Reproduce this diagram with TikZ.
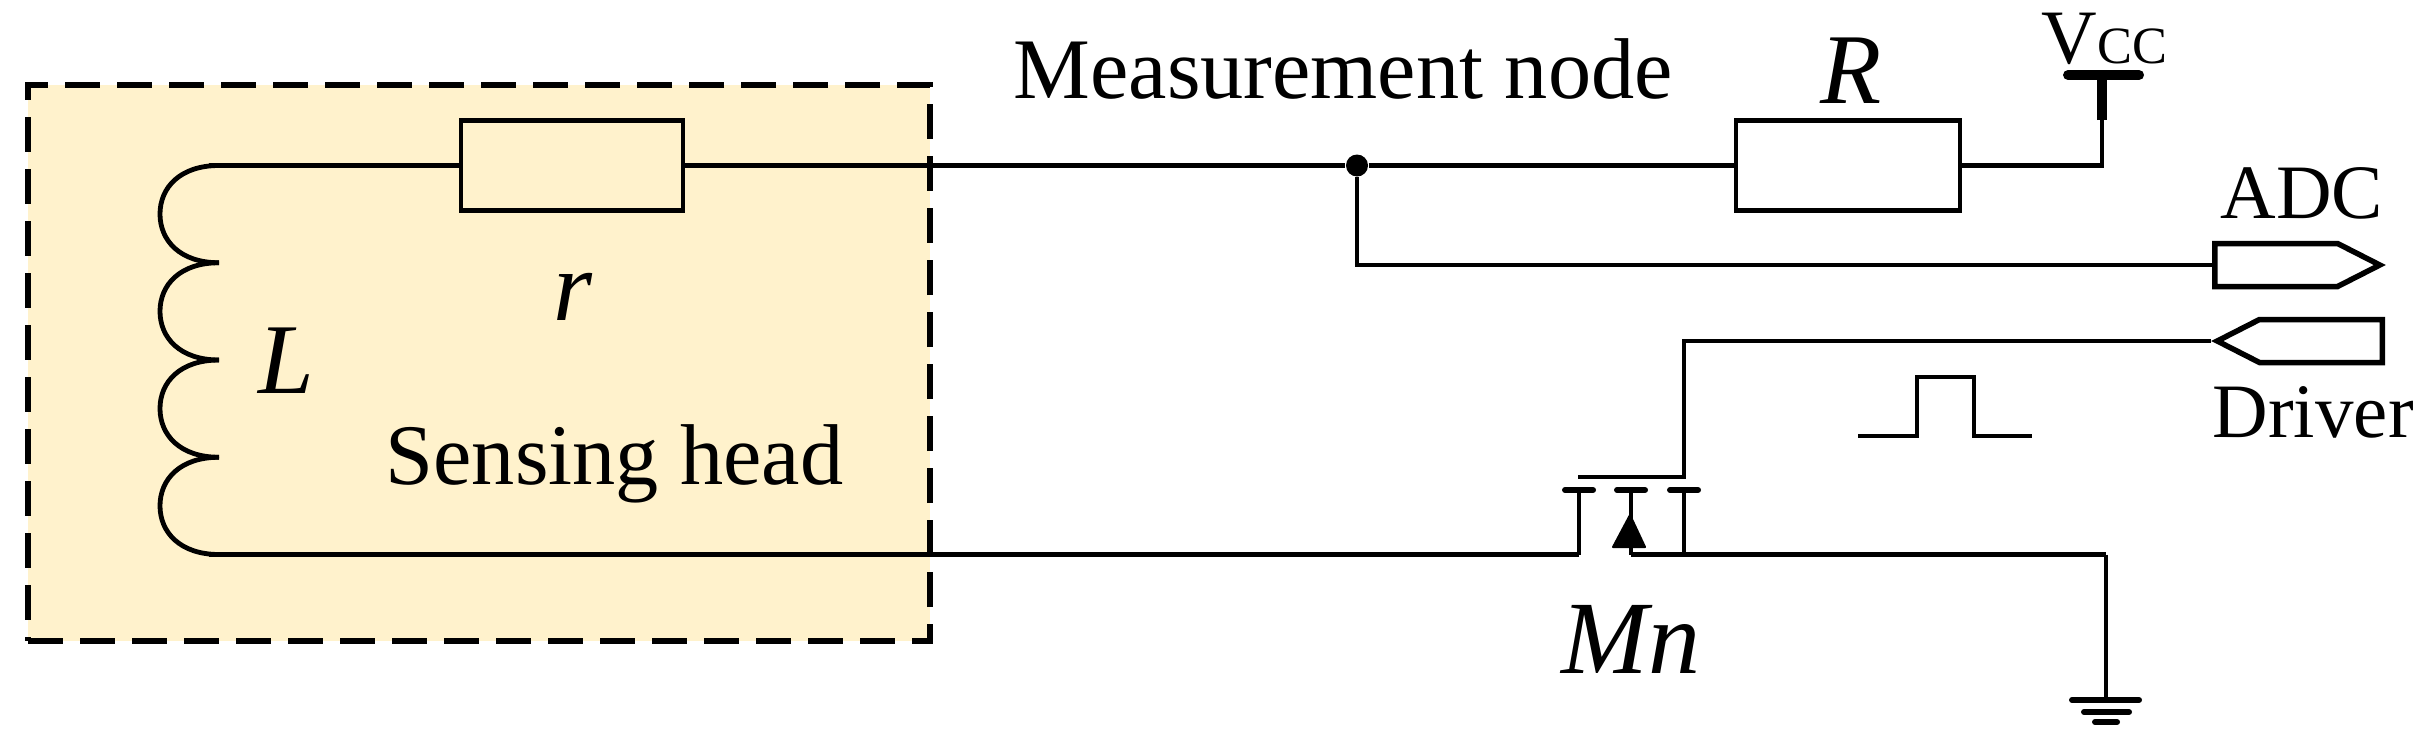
\documentclass[tikz,border=0pt]{standalone}
\usepackage{fontspec}
\setmainfont{Liberation Serif}
\usetikzlibrary{shapes.symbols}
\definecolor{headfill}{HTML}{FFF2CC}
\tikzset{
  wire/.style={line width=0.048cm},
  res/.style={draw,line width=0.048cm,inner sep=0,minimum height=0.9cm},
  port/.style={draw,signal,line width=0.055cm,inner sep=0,minimum height=0.43cm,signal pointer angle=54},
  lab/.style={inner sep=0,anchor=base west,font=\fontsize{24.55}{28}\selectfont},
  sym/.style={inner sep=0,anchor=base west,font=\fontsize{28.5}{32}\selectfont\itshape},
  tag/.style={inner sep=0,anchor=base west,font=\fontsize{21.9}{26}\selectfont},
  bar/.style={line width=0.06cm,line cap=round}
}
\begin{document}
\begin{tikzpicture}
\useasboundingbox (0,0) rectangle (24.26,7.35);
\node[draw,fill=headfill,dashed,line width=0.055cm,dash pattern=on 0.35cm off 0.17cm,inner sep=0,minimum width=9.02cm,minimum height=5.56cm] (Head) at (4.79,3.72) {};
\node[res,minimum width=2.22cm] (Rr) at (5.72,5.695) {};
\node[res,minimum width=2.24cm] (RR) at (18.48,5.695) {};
\node[circle,fill,inner sep=0,minimum size=0.22cm] (Meas) at (13.57,5.695) {};
\node[port,minimum width=1.65cm,signal to=east,anchor=west] (ADC) at (22.12,4.70) {};
\node[port,minimum width=1.65cm,signal to=west,anchor=east] (Drv) at (23.85,3.94) {};
\coordinate (CoilT) at (2.09,5.695);
\coordinate (CoilB) at (2.09,1.805);
\coordinate (Vcc) at (21.02,6.60);
\coordinate (VccS) at (21.02,6.15);
\coordinate (VccL) at (20.68,6.60);
\coordinate (VccH) at (21.39,6.60);
\coordinate (Gate) at (15.78,2.58);
\coordinate (Dr) at (15.79,1.805);
\coordinate (Bd) at (16.31,1.805);
\coordinate (Sr) at (16.84,1.805);
\coordinate (Gnd) at (21.06,0.35);
% coil
\foreach \y in {5.695,4.7225,3.75,2.7775}
  \draw[wire] (2.19,\y) .. controls (1.80,\y) and (1.60,\y-0.22) .. (1.60,\y-0.486)
    .. controls (1.60,\y-0.75) and (1.80,\y-0.9725) .. (2.19,\y-0.9725);
\path[wire]
(CoilT) edge (Rr.west)
(Rr.east) edge (Meas)
(Meas) edge (RR.west)
(CoilB) edge (Dr)
(Bd) edge (Bd -| Gnd)
(Bd -| Gnd) edge (Gnd);
\draw[wire] (RR.east) -| (VccS);
\draw[wire] (Meas) |- (ADC.west);
\draw[wire] (Drv.west) -| (16.84,2.58) -- (Gate);
% vcc terminal
\draw[line width=0.1cm] (VccS) -- (Vcc);
\draw[line width=0.1cm,line cap=round] (VccL) -- (VccH);
% transistor
\foreach \x in {15.79,16.31,16.84} {
  \draw[wire] (\x,2.45) -- (\x,1.805);
  \draw[bar] (\x-0.14,2.45) -- (\x+0.14,2.45);
}
\fill[line join=round,draw,line width=0.02cm] (16.30,2.20) -- (16.13,1.88) -- (16.45,1.88) -- cycle;
% ground
\draw[bar] (20.72,0.35) -- (21.39,0.35);
\draw[bar] (20.84,0.23) -- (21.29,0.23);
\draw[bar] (20.95,0.13) -- (21.17,0.13);
% pulse
\draw[wire] (18.58,2.99) -- (19.17,2.99) -- (19.17,3.58) -- (19.74,3.58) -- (19.74,2.99) -- (20.32,2.99);
% labels
\node[lab] (MeasL) at (10.13,6.37) {Measurement node};
\node[lab] (HeadL) at (3.85,2.51) {Sensing head};
\node[sym] (LL) at (2.58,3.42) {L};
\node[sym] (RrL) at (5.53,4.15) {r};
\node[sym] (RRL) at (18.20,6.32) {R};
\node[sym,font=\fontsize{29.6}{33}\selectfont\itshape] (MnL) at (15.61,0.62) {Mn};
\node[tag] (ADCL) at (22.20,5.17) {ADC};
\node[tag] (DrvL) at (22.12,2.98) {Driver};
\node[tag] (VccT) at (20.41,6.72) {V{\fontsize{14.9}{18}\selectfont CC}};
\end{tikzpicture}
\end{document}
